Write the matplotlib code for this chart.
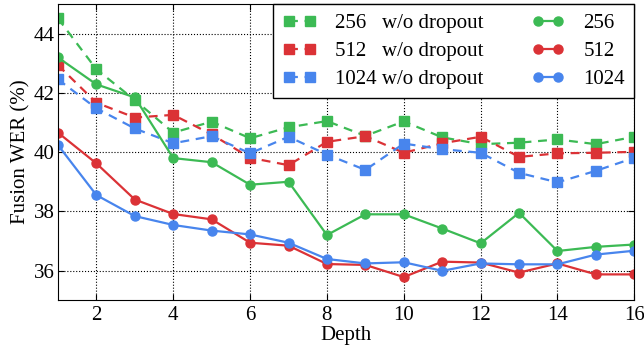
import matplotlib
matplotlib.use('Agg')
import matplotlib.pyplot as plt

plt.rcParams['font.family'] = ['Liberation Serif', 'DejaVu Serif']
plt.rcParams['font.size'] = 15

depth = list(range(1, 17))

# w/o dropout (dashed, squares)
nodrop_256 = [44.52, 42.80, 41.76, 40.66, 41.03, 40.47, 40.84, 41.05,
              40.55, 41.04, 40.50, 40.27, 40.32, 40.43, 40.27, 40.52]
nodrop_512 = [42.94, 41.67, 41.17, 41.26, 40.60, 39.81, 39.56, 40.35,
              40.54, 39.98, 40.30, 40.52, 39.84, 39.96, 39.98, 40.01]
nodrop_1024 = [42.46, 41.48, 40.80, 40.30, 40.54, 39.96, 40.52, 39.92,
               39.40, 40.29, 40.10, 39.98, 39.30, 38.98, 39.37, 39.81]

# with dropout (solid, circles)
drop_256 = [43.20, 42.29, 41.85, 39.80, 39.66, 38.90, 39.00, 37.20,
            37.90, 37.90, 37.42, 36.92, 37.95, 36.66, 36.80, 36.88]
drop_512 = [40.66, 39.62, 38.40, 37.91, 37.73, 36.94, 36.84, 36.22,
            36.19, 35.78, 36.30, 36.27, 35.93, 36.24, 35.87, 35.87]
drop_1024 = [40.24, 38.55, 37.84, 37.54, 37.35, 37.22, 36.94, 36.39,
             36.24, 36.28, 35.99, 36.24, 36.21, 36.21, 36.54, 36.67]

labels = ['256', '512', '1024']
colors = ['#3cba54', '#db3236', '#4885ed']

fig = plt.figure(figsize=(6.44, 3.49), dpi=100)
ax = fig.add_axes([0.090, 0.140, 0.895, 0.848])

for vals, lab, c in zip([nodrop_256, nodrop_512, nodrop_1024], labels, colors):
    name = lab + '   w/o dropout' if len(lab) == 3 else lab + ' w/o dropout'
    ax.plot(depth, vals, color=c, linestyle='--', dashes=(4, 3), linewidth=1.6,
            marker='s', markersize=6.5, markeredgecolor=c, label=name)

for vals, lab, c in zip([drop_256, drop_512, drop_1024], labels, colors):
    ax.plot(depth, vals, color=c, linestyle='-', linewidth=1.6,
            marker='o', markersize=6.5, markeredgecolor=c, label=lab)

ax.set_xlim(1, 16)
ax.set_ylim(35, 45)
ax.set_xticks([2, 4, 6, 8, 10, 12, 14, 16])
ax.set_yticks([36, 38, 40, 42, 44])
ax.grid(True, color='black', linestyle=':', linewidth=0.8)
ax.tick_params(direction='in', top=True, right=True, length=4)
ax.tick_params(axis='y', pad=2.5)
ax.tick_params(axis='x', pad=4)
ax.set_xlabel('Depth', labelpad=1)
ax.set_ylabel('Fusion WER (%)', labelpad=2)

leg = ax.legend(loc='upper right', ncol=2, numpoints=2, fancybox=False,
                edgecolor='black', framealpha=1, borderaxespad=0,
                handlelength=1.6, columnspacing=2.3, labelspacing=0.4,
                borderpad=0.45, handletextpad=0.9)
leg.get_frame().set_linewidth(1.0)

fig.savefig('out.png', dpi=100)
